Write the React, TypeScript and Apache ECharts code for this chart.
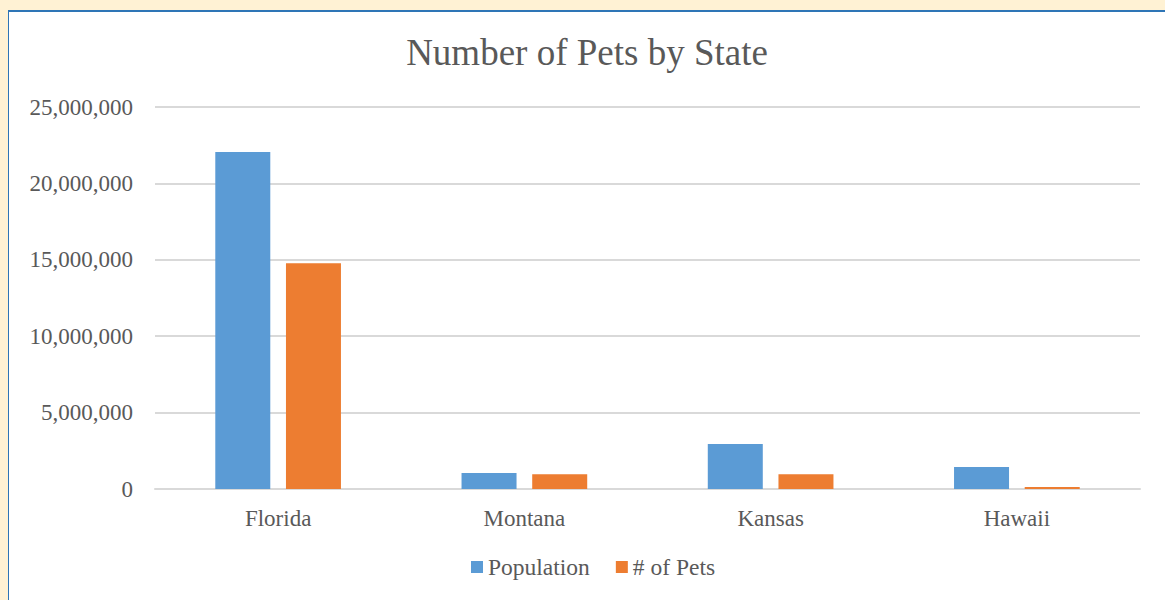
import React, { useEffect, useRef } from "react";
import * as echarts from "echarts";

const states = ["Florida", "Montana", "Kansas", "Hawaii"];
const population = [22050000, 1050000, 2940000, 1440000];
const pets = [14770000, 960000, 960000, 110000];
const yTicks = { min: 0, max: 25000000, interval: 5000000 };

const TEXT = "#595959";
const FONT = "'Liberation Serif', 'Times New Roman', serif";

export default function App() {
  const ref = useRef<HTMLDivElement>(null);

  useEffect(() => {
    if (!ref.current) return;
    const chart = echarts.init(ref.current, undefined, { renderer: "svg" });
    chart.setOption({
      animation: false,
      backgroundColor: "#ffffff",
      textStyle: { fontFamily: FONT, color: TEXT },
      title: {
        text: "Number of Pets by State",
        left: "center",
        top: 17,
        textStyle: { fontFamily: FONT, fontSize: 37, fontWeight: "normal", color: TEXT },
      },
      legend: {
        bottom: 16,
        left: 457,
        itemWidth: 12,
        itemHeight: 12,
        itemGap: 26,
        icon: "rect",
        textStyle: { fontFamily: FONT, fontSize: 23.5, color: TEXT },
        data: ["Population", "# of Pets"],
      },
      grid: { left: 146, right: 25, top: 95, bottom: 111, containLabel: false },
      xAxis: {
        type: "category",
        data: states,
        axisLine: { lineStyle: { color: "#d9d9d9", width: 2 } },
        axisTick: { show: false },
        axisLabel: { fontFamily: FONT, fontSize: 23, color: TEXT, margin: 18 },
      },
      yAxis: {
        type: "value",
        min: yTicks.min,
        max: yTicks.max,
        interval: yTicks.interval,
        axisLine: { show: false },
        axisTick: { show: false },
        splitLine: { lineStyle: { color: "#d9d9d9", width: 2 } },
        axisLabel: {
          fontFamily: FONT,
          fontSize: 23,
          color: TEXT,
          margin: 22,
          formatter: (v: number) => v.toLocaleString("en-US"),
        },
      },
      series: [
        {
          name: "Population",
          type: "bar",
          data: population,
          barWidth: 55,
          barGap: "28.5%",
          barMinHeight: 2,
          itemStyle: { color: "#5B9BD5" },
        },
        {
          name: "# of Pets",
          type: "bar",
          data: pets,
          barWidth: 55,
          barGap: "28.5%",
          barMinHeight: 2,
          itemStyle: { color: "#ED7D31" },
        },
      ],
    });
    return () => chart.dispose();
  }, []);

  return (
    <div
      style={{
        position: "absolute",
        left: 0,
        top: 0,
        width: 1165,
        height: 600,
        background: "#FFF2D4",
        overflow: "hidden",
      }}
    >
      <div
        style={{
          position: "absolute",
          left: 8,
          top: 10,
          width: 1157,
          height: 590,
          borderTop: "2px solid #2E75B6",
          borderLeft: "1px solid #2E75B6",
          boxSizing: "border-box",
          background: "#ffffff",
        }}
      >
        <div ref={ref} style={{ width: 1156, height: 588 }} />
      </div>
    </div>
  );
}
